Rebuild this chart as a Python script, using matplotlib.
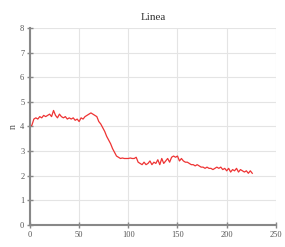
import numpy as np
import matplotlib
matplotlib.use("Agg")
import matplotlib.pyplot as plt

# sampled every 2 units along x
x_step = 2
values = [4.0, 4.05, 4.3, 4.35, 4.3, 4.4, 4.35, 4.45, 4.4, 4.45,
          4.5, 4.4, 4.65, 4.45, 4.35, 4.5, 4.4, 4.35, 4.4, 4.3,
          4.35, 4.3, 4.35, 4.25, 4.3, 4.2, 4.35, 4.3, 4.4, 4.45,
          4.5, 4.55, 4.5, 4.45, 4.4, 4.2, 4.1, 3.95, 3.8, 3.6,
          3.45, 3.3, 3.1, 2.95, 2.8, 2.75, 2.7, 2.72, 2.7, 2.7,
          2.7, 2.72, 2.7, 2.7, 2.75, 2.55, 2.5, 2.45, 2.55, 2.45,
          2.5, 2.6, 2.45, 2.55, 2.5, 2.65, 2.45, 2.7, 2.5, 2.6,
          2.7, 2.55, 2.75, 2.8, 2.75, 2.8, 2.6, 2.7, 2.6, 2.55,
          2.55, 2.5, 2.45, 2.45, 2.4, 2.45, 2.4, 2.35, 2.35, 2.3,
          2.35, 2.3, 2.3, 2.25, 2.3, 2.35, 2.3, 2.35, 2.25, 2.3,
          2.2, 2.3, 2.15, 2.25, 2.2, 2.3, 2.15, 2.25, 2.2, 2.15,
          2.2, 2.1, 2.2, 2.1]
x_ticks = [0, 50, 100, 150, 200, 250]
y_ticks = [0, 1, 2, 3, 4, 5, 6, 7, 8]

plt.rcParams['font.family'] = ['Liberation Serif', 'DejaVu Serif']

fig = plt.figure(figsize=(2.85, 2.47), dpi=100)
ax = fig.add_axes([0.105, 0.089, 0.863, 0.798])

xs = np.arange(len(values)) * x_step
ax.plot(xs, values, color='#ee3333', lw=0.9)

ax.set_xlim(0, 250)
ax.set_ylim(0, 8)
ax.set_xticks(x_ticks)
ax.set_yticks(y_ticks)
ax.grid(True, color='#e4e4e4', lw=0.8)
ax.set_axisbelow(True)
ax.set_title('Linea', fontsize=8, color='#333333', pad=6)
ax.set_ylabel('n', fontsize=7, color='#555555', labelpad=2)

for s in ['top', 'right']:
    ax.spines[s].set_visible(False)
for s in ['left', 'bottom']:
    ax.spines[s].set_color('#888888')
    ax.spines[s].set_linewidth(1.5)
ax.tick_params(direction='inout', length=4, width=1, color='#888888',
               labelsize=6, labelcolor='#555555', pad=2)

fig.savefig('out.png', dpi=100)
